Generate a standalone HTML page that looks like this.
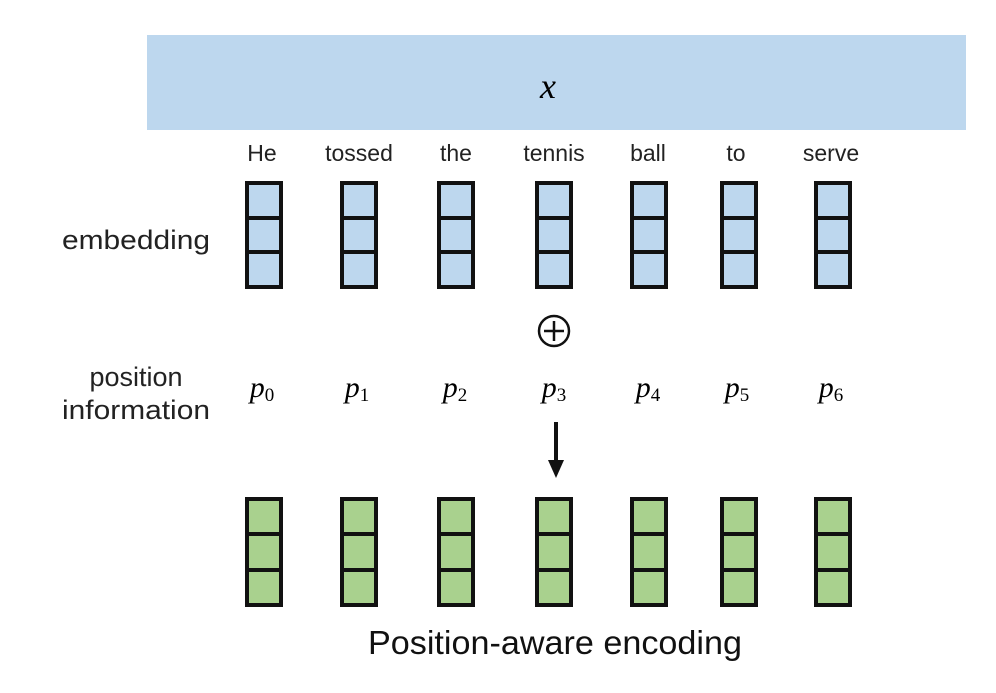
<!DOCTYPE html>
<html><head><style>
body{margin:0;width:996px;height:688px;background:#fff;overflow:hidden}
</style></head><body>
<svg width="996" height="688" xmlns="http://www.w3.org/2000/svg" font-family="Liberation Sans, sans-serif">
<rect x="147" y="35" width="819" height="95" fill="#bdd7ee"/>
<text x="548" y="98" font-family="Liberation Serif, serif" font-style="italic" font-size="36" text-anchor="middle">x</text>
<g font-size="23" text-anchor="middle" fill="#222">
<text x="262" y="161">He</text><text x="359" y="161">tossed</text><text x="456" y="161">the</text>
<text x="554" y="161">tennis</text><text x="648" y="161">ball</text><text x="736" y="161">to</text><text x="831" y="161">serve</text>
</g>
<text x="136" y="249" font-size="27" text-anchor="middle" fill="#222" textLength="148" lengthAdjust="spacingAndGlyphs">embedding</text>
<text x="136" y="386" font-size="27" text-anchor="middle" fill="#222">position</text>
<text x="136" y="419" font-size="27" text-anchor="middle" fill="#222" textLength="148" lengthAdjust="spacingAndGlyphs">information</text>
<g stroke="#111" stroke-width="4">
<g fill="#bdd7ee">
<rect x="247" y="183" width="34" height="104"/><rect x="342" y="183" width="34" height="104"/><rect x="439" y="183" width="34" height="104"/><rect x="537" y="183" width="34" height="104"/><rect x="632" y="183" width="34" height="104"/><rect x="722" y="183" width="34" height="104"/><rect x="816" y="183" width="34" height="104"/>
</g>
<g fill="#a9d18e">
<rect x="247" y="499" width="34" height="106"/><rect x="342" y="499" width="34" height="106"/><rect x="439" y="499" width="34" height="106"/><rect x="537" y="499" width="34" height="106"/><rect x="632" y="499" width="34" height="106"/><rect x="722" y="499" width="34" height="106"/><rect x="816" y="499" width="34" height="106"/>
</g>
<path d="M247 218h34M342 218h34M439 218h34M537 218h34M632 218h34M722 218h34M816 218h34M247 252h34M342 252h34M439 252h34M537 252h34M632 252h34M722 252h34M816 252h34"/>
<path d="M247 534h34M342 534h34M439 534h34M537 534h34M632 534h34M722 534h34M816 534h34M247 570h34M342 570h34M439 570h34M537 570h34M632 570h34M722 570h34M816 570h34"/>
</g>
<circle cx="554" cy="331" r="15" fill="none" stroke="#111" stroke-width="2.5"/>
<path d="M554 321v20M544 331h20" stroke="#111" stroke-width="2.5"/>
<g font-family="Liberation Serif, serif" font-style="italic" font-size="30" text-anchor="middle">
<text x="262" y="397">p<tspan font-style="normal" font-size="19" dy="4">0</tspan></text>
<text x="357" y="397">p<tspan font-style="normal" font-size="19" dy="4">1</tspan></text>
<text x="455" y="397">p<tspan font-style="normal" font-size="19" dy="4">2</tspan></text>
<text x="554" y="397">p<tspan font-style="normal" font-size="19" dy="4">3</tspan></text>
<text x="648" y="397">p<tspan font-style="normal" font-size="19" dy="4">4</tspan></text>
<text x="737" y="397">p<tspan font-style="normal" font-size="19" dy="4">5</tspan></text>
<text x="831" y="397">p<tspan font-style="normal" font-size="19" dy="4">6</tspan></text>
</g>
<path d="M556 422v40" stroke="#111" stroke-width="4"/>
<path d="M548 460h16l-8 18z" fill="#111"/>
<text x="555" y="654" font-size="33" text-anchor="middle" fill="#111" textLength="374" lengthAdjust="spacingAndGlyphs">Position-aware encoding</text>
</svg>
</body></html>
